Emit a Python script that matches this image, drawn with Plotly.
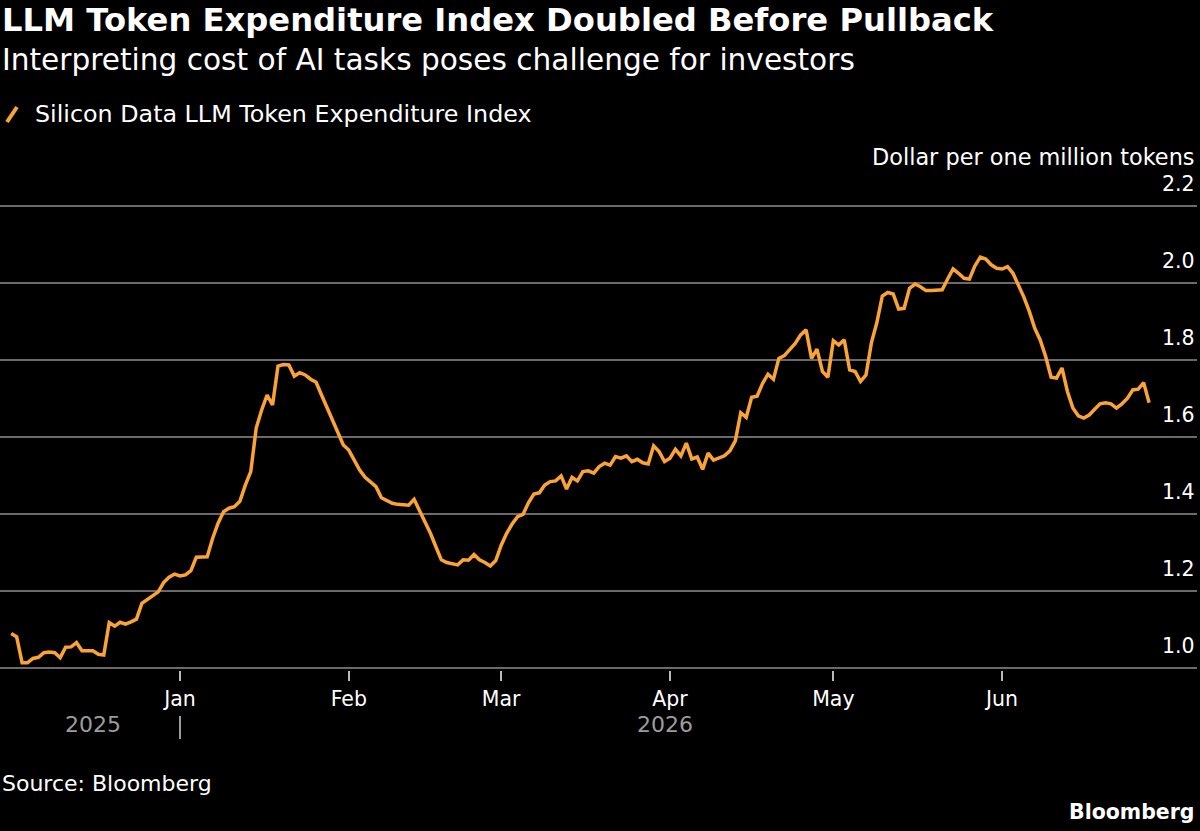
import pandas as pd
import plotly.graph_objects as go

# ---- data ----
start_date = "2025-12-01"  # daily observations
index_values = [
    1.090, 1.081, 1.014, 1.014, 1.025, 1.028, 1.040, 1.042, 1.040, 1.027,
    1.054, 1.055, 1.066, 1.045, 1.045, 1.045, 1.036, 1.034, 1.118, 1.109,
    1.119, 1.114, 1.120, 1.127, 1.168, 1.178, 1.190, 1.198, 1.222, 1.236,
    1.244, 1.239, 1.242, 1.253, 1.288, 1.288, 1.289, 1.337, 1.376, 1.406,
    1.415, 1.419, 1.433, 1.475, 1.510, 1.623, 1.670, 1.709, 1.683, 1.784,
    1.788, 1.787, 1.758, 1.767, 1.761, 1.750, 1.742, 1.709, 1.675, 1.646,
    1.610, 1.579, 1.566, 1.540, 1.514, 1.495, 1.484, 1.471, 1.442, 1.436,
    1.428, 1.425, 1.425, 1.423, 1.438, 1.410, 1.380, 1.350, 1.315, 1.281,
    1.274, 1.272, 1.268, 1.281, 1.280, 1.295, 1.281, 1.274, 1.265, 1.279,
    1.319, 1.350, 1.374, 1.393, 1.399, 1.429, 1.452, 1.455, 1.475, 1.484,
    1.486, 1.499, 1.465, 1.495, 1.486, 1.510, 1.512, 1.506, 1.523, 1.532,
    1.527, 1.549, 1.545, 1.551, 1.536, 1.542, 1.533, 1.530, 1.577, 1.562,
    1.536, 1.545, 1.568, 1.551, 1.584, 1.543, 1.548, 1.516, 1.558, 1.540,
    1.545, 1.551, 1.564, 1.590, 1.663, 1.651, 1.703, 1.706, 1.739, 1.763,
    1.750, 1.804, 1.811, 1.826, 1.843, 1.865, 1.878, 1.804, 1.828, 1.770,
    1.755, 1.850, 1.839, 1.852, 1.774, 1.770, 1.744, 1.761, 1.845, 1.897,
    1.966, 1.975, 1.971, 1.932, 1.934, 1.986, 1.997, 1.990, 1.980, 1.980,
    1.980, 1.982, 2.010, 2.036, 2.025, 2.012, 2.010, 2.044, 2.067, 2.062,
    2.047, 2.038, 2.036, 2.042, 2.025, 1.995, 1.963, 1.926, 1.882, 1.852,
    1.809, 1.755, 1.753, 1.779, 1.718, 1.675, 1.655, 1.649, 1.657, 1.672,
    1.686, 1.689, 1.686, 1.675, 1.686, 1.700, 1.722, 1.724, 1.741, 1.689,
]
month_ticks = ["2026-01-01", "2026-02-01", "2026-03-01", "2026-04-01", "2026-05-01", "2026-06-01"]
month_labels = ["Jan", "Feb", "Mar", "Apr", "May", "Jun"]
y_ticks = [1.0, 1.2, 1.4, 1.6, 1.8, 2.0, 2.2]
y_tick_labels = ["1.0", "1.2", "1.4", "1.6", "1.8", "2.0", "2.2"]
year_labels = ["2025", "2026"]
year_label_dates = ["2025-12-16", "2026-03-31"]
series_name = "Silicon Data LLM Token Expenditure Index"

dates = pd.date_range(start_date, periods=len(index_values), freq="D")

# ---- layout geometry ----
W, H = 1200, 831
M_L, M_R, M_T, M_B = 0, 3, 202, 161
PLOT_W = W - M_L - M_R
PLOT_BOTTOM = H - M_B
PLOT_H = PLOT_BOTTOM - M_T

def px(x):
    return (x - M_L) / PLOT_W

def py(y):
    return (PLOT_BOTTOM - y) / PLOT_H

FONT = "DejaVu Sans"
ORANGE = "#FBA334"
GRID = "#6a6a6a"
GREY_TXT = "#9c9c9c"

jan1 = pd.Timestamp("2026-01-01")
x_range = [jan1 - pd.Timedelta(days=33.06), jan1 + pd.Timedelta(days=186.8)]

fig = go.Figure()
fig.add_trace(go.Scatter(
    x=dates, y=index_values, mode="lines", name=series_name,
    line=dict(color=ORANGE, width=3.5), showlegend=False,
))

annotations = []
# titles
annotations.append(dict(text="<b>LLM Token Expenditure Index Doubled Before Pullback</b>",
                        x=px(0), y=py(20), xanchor="left", yanchor="middle",
                        font=dict(size=32.2, color="white", family=FONT)))
annotations.append(dict(text="Interpreting cost of AI tasks poses challenge for investors",
                        x=px(0), y=py(60), xanchor="left", yanchor="middle",
                        font=dict(size=29.6, color="white", family=FONT)))
annotations.append(dict(text=series_name,
                        x=px(33), y=py(114), xanchor="left", yanchor="middle",
                        font=dict(size=23.8, color="white", family=FONT)))
annotations.append(dict(text="Dollar per one million tokens",
                        x=px(1197), y=py(157), xanchor="right", yanchor="middle",
                        font=dict(size=22.4, color="white", family=FONT)))
# y tick labels above gridlines
for v, t in zip(y_ticks, y_tick_labels):
    annotations.append(dict(text=t, xref="paper", yref="y", x=px(1197), y=v,
                            xanchor="right", yanchor="middle", yshift=22,
                            font=dict(size=20.5, color="white", family=FONT)))
# year labels
for d, t in zip(year_label_dates, year_labels):
    annotations.append(dict(text=t, xref="x", yref="paper", x=d, y=py(724),
                            xanchor="center", yanchor="middle",
                            font=dict(size=22, color=GREY_TXT, family=FONT)))
annotations.append(dict(text="Source: Bloomberg", x=px(0), y=py(783),
                        xanchor="left", yanchor="middle",
                        font=dict(size=22, color="white", family=FONT)))
annotations.append(dict(text="<b>Bloomberg</b>", x=px(1197), y=py(812),
                        xanchor="right", yanchor="middle",
                        font=dict(size=20.5, color="white", family=FONT)))
for a in annotations:
    a.setdefault("xref", "paper")
    a.setdefault("yref", "paper")
    a["showarrow"] = False

shapes = [
    # legend slash
    dict(type="line", xref="paper", yref="paper", x0=px(7), y0=py(122), x1=px(17), y1=py(107),
         line=dict(color=ORANGE, width=4)),
    # year separator under Jan
    dict(type="line", xref="x", yref="paper", x0=month_ticks[0], x1=month_ticks[0],
         y0=py(716), y1=py(739), line=dict(color=GREY_TXT, width=2)),
]

fig.update_layout(
    width=W, height=H,
    paper_bgcolor="black", plot_bgcolor="black",
    margin=dict(l=M_L, r=M_R, t=M_T, b=M_B),
    annotations=annotations, shapes=shapes,
    showlegend=False,
    xaxis=dict(
        type="date", range=x_range, tickvals=month_ticks, ticktext=month_labels,
        showgrid=False, zeroline=False, showline=False,
        ticks="outside", ticklen=10, tickwidth=2, tickcolor="#bbbbbb",
        tickfont=dict(size=20.5, color="white", family=FONT),
    ),
    yaxis=dict(
        range=[0.995, 2.21], tickvals=y_ticks, showticklabels=False,
        showgrid=True, gridcolor=GRID, gridwidth=2, zeroline=False, showline=False,
    ),
)

fig.write_html("out.html")
